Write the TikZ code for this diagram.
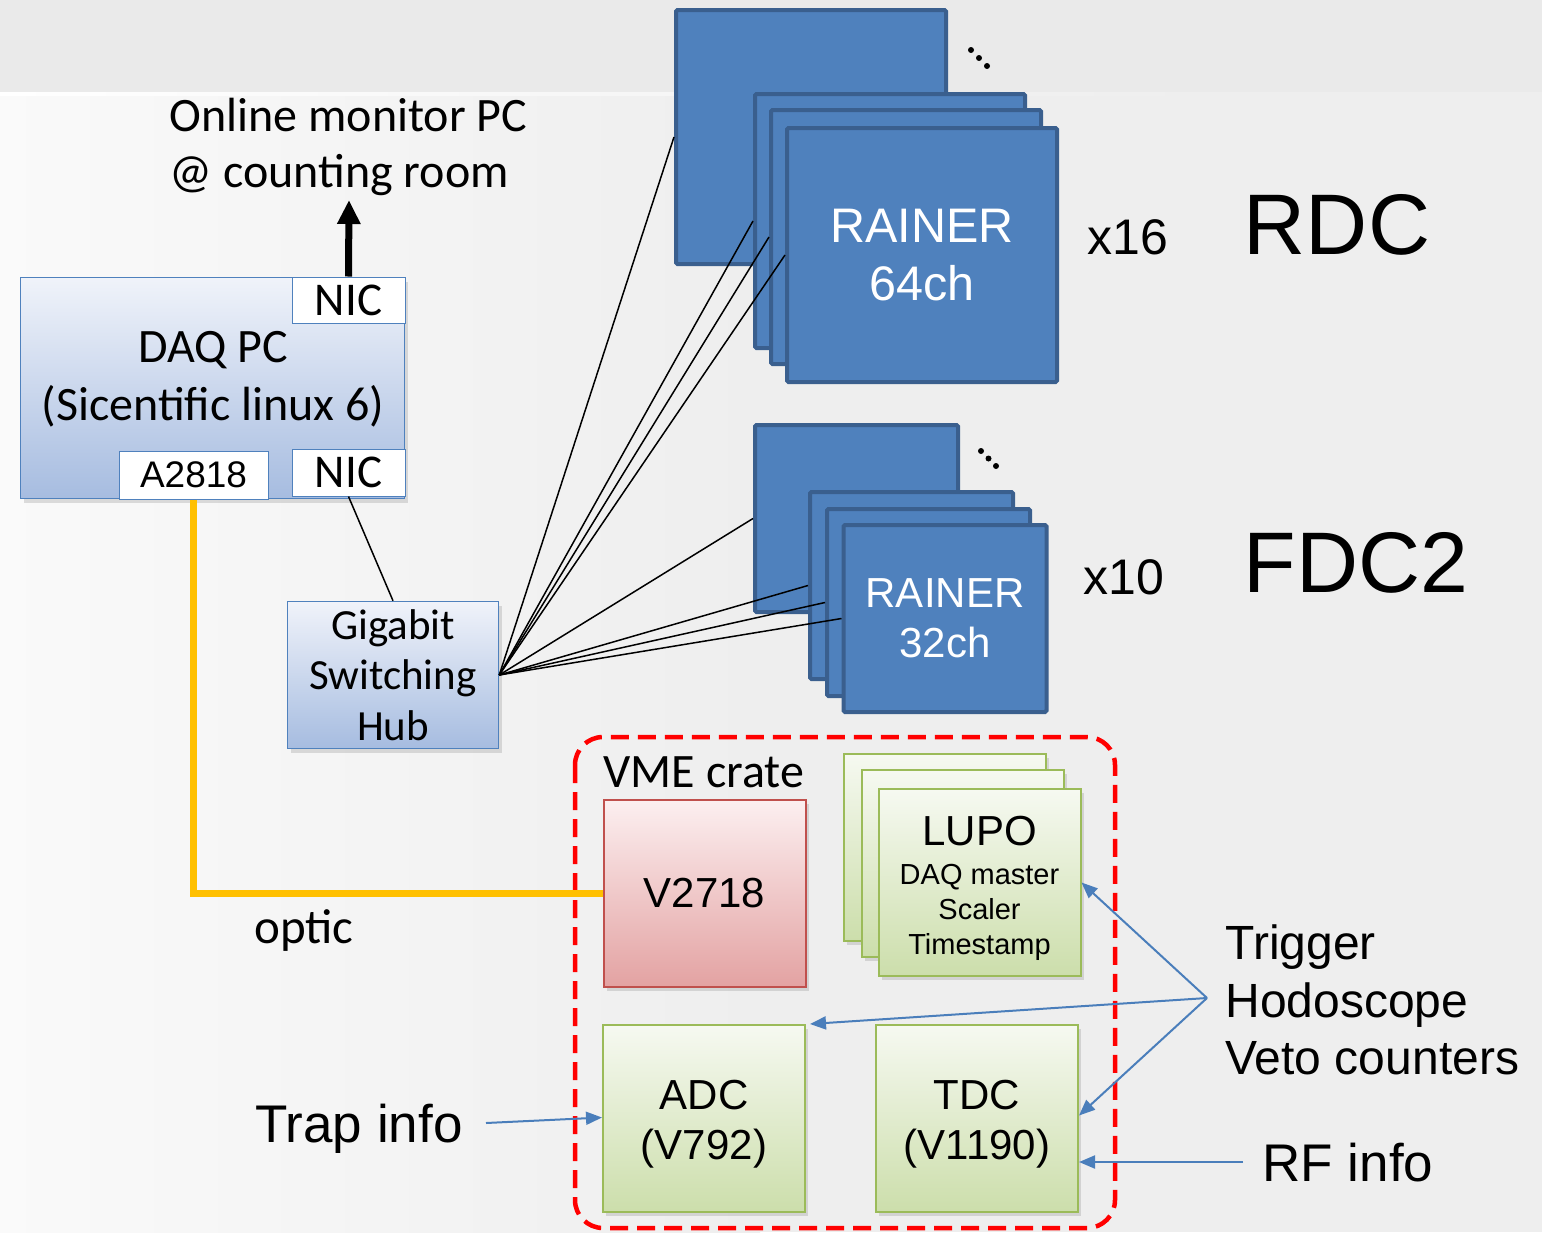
\documentclass[tikz,border=0pt]{standalone}
\usepackage{fontspec}
\setmainfont{Carlito}
\newfontfamily\arialfont{Liberation Sans}
\usetikzlibrary{arrows.meta,shadows}

\definecolor{bggray}{HTML}{EEEEEE}
\definecolor{bgband}{HTML}{EAEAEA}
\definecolor{boxblue}{HTML}{4F81BD}
\definecolor{boxedge}{HTML}{3A5F8E}
\definecolor{pctop}{HTML}{F0F3FA}
\definecolor{pcbottom}{HTML}{A6BCE0}
\definecolor{pcedge}{HTML}{4F81BD}
\definecolor{redtop}{HTML}{FCEFF0}
\definecolor{redbottom}{HTML}{E3A2A2}
\definecolor{rededge}{HTML}{C0504D}
\definecolor{greentop}{HTML}{F6F9F1}
\definecolor{greenbottom}{HTML}{CCDEAB}
\definecolor{greenedge}{HTML}{9BBB59}
\definecolor{opticline}{HTML}{FFC000}
\definecolor{sigblue}{HTML}{4A7EBB}

\tikzset{
	shade/.style={drop shadow={opacity=0.25, shadow xshift=3pt, shadow yshift=-4pt}},
	pcbox/.style={draw=pcedge, line width=1.5pt, top color=pctop, bottom color=pcbottom, shade},
	port/.style={draw=pcedge, line width=1pt, fill=white, inner sep=0pt},
	rainer/.style={draw=boxedge, line width=4pt, fill=boxblue, rounded corners=1.5pt,
		minimum width=270pt, minimum height=254pt, text=white, align=center},
	rainersmall/.style={rainer, minimum width=203pt, minimum height=187pt},
	vmemod/.style={line width=2pt, minimum width=202pt, minimum height=187pt, align=center, shade},
	greenmod/.style={vmemod, draw=greenedge, top color=greentop, bottom color=greenbottom},
	sig/.style={draw=sigblue, line width=2pt, -{Triangle[width=13pt,length=16pt]}},
	arial/.style={font={\pgfmathsetmacro\bskip{1.2*#1}\arialfont\fontsize{#1}{\bskip}\selectfont}},
	calibri/.style={font={\pgfmathsetmacro\bskip{1.2*#1}\fontsize{#1}{\bskip}\selectfont}},
}

\begin{document}
\begin{tikzpicture}[x=1pt, y=-1pt]
	\useasboundingbox (0,0) rectangle (1542,1232);

	% slide background
	\fill[bggray] (0,0) rectangle (1542,1232);
	\fill[bgband] (0,0) rectangle (1542,92);
	\fill[left color=white!70!bggray, right color=bggray] (0,95) rectangle (760,1232);
	\fill[left color=white, right color=bggray] (0,92) rectangle (1200,95);

	% DAQ PC and its ports
	\node[pcbox, minimum width=384pt, minimum height=221pt] (daq) at (212.5,388) {};
	\node[port, minimum width=113pt, minimum height=46pt, calibri=47] (nicT) at (348.5,300) {NIC};
	\node[port, minimum width=113pt, minimum height=47pt, calibri=47] (nicB) at (348.5,472.5) {NIC};
	\node[port, minimum width=149pt, minimum height=48pt, arial=37] (a2818) at (193.5,475) {A2818};
	\node[calibri=48, align=center] (daqtext) at (213,379) {DAQ PC\\[0pt](Sicentific linux 6)};

	\node[calibri=48, align=left, anchor=west] (online) at (166,147) {Online monitor PC\\[-1pt]@ counting room};
	\coordinate (monitor) at (349,200);
	\draw[line width=7pt, -{Triangle[width=22pt,length=24pt]}] (nicT.north) -- (monitor);

	\node[pcbox, minimum width=211pt, minimum height=147pt, calibri=43, align=center] (hub) at (393,675)
		{Gigabit\\[-1pt]Switching\\[-1pt]Hub};
	\draw[line width=1.5pt] (nicB.south) -- (hub.north);

	% RDC readout
	\node[rainer] (rdcback) at (811,137) {};
	\node[rainer] (rdcA) at (890,221) {};
	\node[rainer] (rdcB) at (906,237) {};
	\node[rainer, arial=48.5] (rdc) at (922,255) {RAINER\\[0pt]64ch};
	\foreach \d in {0,1,2}
		\fill (971+8*\d,50+8*\d) circle (3pt);
	\node[arial=50] (x16) at (1128,237) {x16};
	\node[arial=86] (rdclabel) at (1337,225) {RDC};

	% FDC2 readout
	\node[rainersmall] (fdcback) at (856.5,518.5) {};
	\node[rainersmall] (fdcA) at (911.5,585.5) {};
	\node[rainersmall] (fdcB) at (928.5,602.5) {};
	\node[rainersmall, arial=42] (fdc) at (945,618.5) {RAINER\\[0pt]32ch};
	\foreach \d in {0,1,2}
		\fill (981+7.5*\d,451+7.5*\d) circle (3pt);
	\node[arial=50] (x10) at (1124,577) {x10};
	\node[arial=86] (fdclabel) at (1356,563) {FDC2};

	\foreach \m in {rdcback,rdcA,rdcB,rdc,fdcback,fdcA,fdcB,fdc}
		\draw[line width=1.5pt] (hub.east) -- (\m.west);

	% VME crate
	\draw[red, line width=4.5pt, dash pattern=on 18pt off 9pt, rounded corners=28pt]
		(575,737) rectangle (1115,1228);
	\node[calibri=48] (vmelabel) at (704,772) {VME crate};
	\node[vmemod, draw=rededge, top color=redtop, bottom color=redbottom, arial=42] (v2718) at (704.5,893.5) {V2718};
	\node[greenmod] (lupoback) at (944.5,847.5) {};
	\node[greenmod] (lupoA) at (963,863.5) {};
	\node[greenmod] (lupo) at (979.5,882.5) {};
	\node[arial=29, align=center] (lupotext) at (979.5,888.5)
		{{\fontsize{42}{44}\selectfont LUPO}\\[4pt]DAQ master\\[0pt]Scaler\\[0pt]Timestamp};
	\node[greenmod] (adc) at (704,1118.5) {};
	\node[arial=42, align=center] (adctext) at (704,1124) {ADC\\[0pt](V792)};
	\node[greenmod] (tdc) at (977,1118.5) {};
	\node[arial=42, align=center] (tdctext) at (977,1124) {TDC\\[0pt](V1190)};

	\draw[opticline, line width=7pt] (a2818.south) |- (v2718.west);
	\node[calibri=49] (optic) at (304,930) {optic};

	% external signals
	\node[arial=48, align=left, anchor=west] (trig) at (1222,1000) {Trigger\\[0pt]Hodoscope\\[0pt]Veto counters};
	\coordinate (trigin) at (1207,998);
	\draw[sig] (trigin) -- (lupo.east);
	\draw[sig] (trigin) -- ([xshift=4pt]adc.north east);
	\draw[sig] (trigin) -- ([yshift=3pt]tdc.east);

	\node[arial=53] (rf) at (1348,1163) {RF info};
	\coordinate (rfin) at (1243,1162);
	\draw[sig] (rfin) -- (tdc.east |- rfin);

	\node[arial=53] (trap) at (359,1129) {Trap info};
	\coordinate (trapin) at (486,1123);
	\draw[sig] (trapin) -- ([yshift=1pt]adc.west);
\end{tikzpicture}
\end{document}
